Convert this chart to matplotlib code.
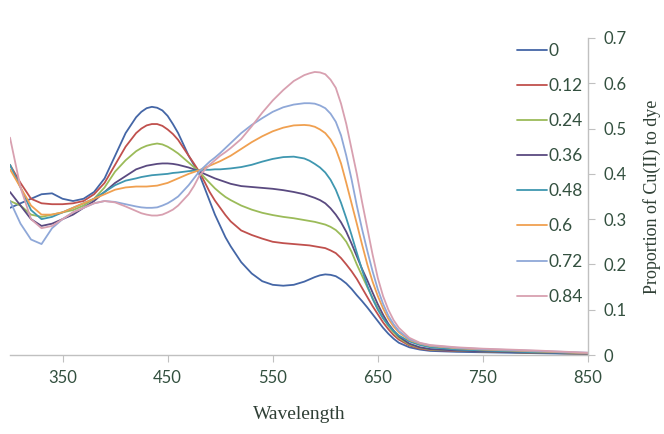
import matplotlib.pyplot as plt

# wavelengths (nm) (denser where the curves bend)
wavelength = [300, 310, 320, 330, 340, 350, 360, 370, 380, 390, 400, 410, 420,
              425, 430, 435, 440, 445, 450, 455, 460,
              470, 475, 480, 485, 490, 495, 500, 505, 510,
              520, 530, 540, 550, 560, 570, 580,
              585, 590, 595, 600, 605, 610, 615, 620, 625, 630, 635, 640, 645,
              650, 655, 660, 665, 670,
              680, 690, 700, 725, 750, 800, 850]

# absorbance for each Cu(II):dye proportion
abs_000 = [0.325, 0.335, 0.345, 0.355, 0.357, 0.345, 0.34, 0.345, 0.36, 0.39, 0.44, 0.49, 0.525,
           0.537, 0.545, 0.548, 0.546, 0.54, 0.528, 0.51, 0.49,
           0.44, 0.42, 0.40, 0.37, 0.34, 0.31, 0.285, 0.26, 0.24,
           0.205, 0.18, 0.163, 0.155, 0.153, 0.155, 0.162,
           0.167, 0.172, 0.176, 0.178, 0.177, 0.174, 0.167, 0.158, 0.146, 0.132, 0.119, 0.105, 0.09,
           0.075, 0.06, 0.047, 0.036, 0.027,
           0.017, 0.012, 0.009, 0.007, 0.006, 0.004, 0.002]
abs_012 = [0.42, 0.38, 0.345, 0.335, 0.333, 0.333, 0.335, 0.34, 0.355, 0.38, 0.42, 0.46, 0.49,
           0.50, 0.507, 0.51, 0.51, 0.506, 0.498, 0.488, 0.475,
           0.44, 0.423, 0.405, 0.383, 0.36, 0.341, 0.325, 0.309, 0.295,
           0.275, 0.265, 0.257, 0.25, 0.247, 0.245, 0.243,
           0.242, 0.24, 0.238, 0.236, 0.231, 0.225, 0.214, 0.2, 0.185, 0.168, 0.148, 0.128, 0.108,
           0.09, 0.072, 0.057, 0.044, 0.034,
           0.021, 0.014, 0.011, 0.009, 0.008, 0.005, 0.003]
abs_024 = [0.34, 0.33, 0.31, 0.305, 0.31, 0.315, 0.32, 0.33, 0.345, 0.37, 0.405, 0.43, 0.45,
           0.457, 0.462, 0.465, 0.467, 0.465, 0.46, 0.453, 0.445,
           0.425, 0.415, 0.405, 0.392, 0.38, 0.368, 0.358, 0.349, 0.342,
           0.33, 0.321, 0.314, 0.309, 0.305, 0.302, 0.298,
           0.296, 0.294, 0.291, 0.288, 0.283, 0.276, 0.265, 0.25, 0.228, 0.2, 0.175, 0.15, 0.126,
           0.103, 0.082, 0.064, 0.05, 0.038,
           0.023, 0.016, 0.012, 0.01, 0.008, 0.005, 0.003]
abs_036 = [0.36, 0.33, 0.3, 0.285, 0.29, 0.3, 0.31, 0.325, 0.34, 0.36, 0.38, 0.395, 0.41,
           0.414, 0.418, 0.42, 0.422, 0.423, 0.423, 0.422, 0.42,
           0.414, 0.41, 0.406, 0.40, 0.395, 0.39, 0.386, 0.382, 0.378,
           0.373, 0.371, 0.369, 0.367, 0.364, 0.36, 0.355,
           0.351, 0.347, 0.342, 0.335, 0.324, 0.31, 0.293, 0.272, 0.246, 0.218, 0.19, 0.165, 0.138,
           0.112, 0.089, 0.069, 0.054, 0.041,
           0.025, 0.017, 0.013, 0.01, 0.008, 0.005, 0.003]
abs_048 = [0.42, 0.37, 0.32, 0.3, 0.305, 0.315, 0.325, 0.335, 0.345, 0.36, 0.375, 0.385, 0.39,
           0.393, 0.395, 0.397, 0.398, 0.399, 0.40, 0.402, 0.403,
           0.406, 0.407, 0.408, 0.409, 0.409, 0.41, 0.41, 0.411, 0.412,
           0.415, 0.42, 0.427, 0.433, 0.437, 0.438, 0.434,
           0.429, 0.422, 0.414, 0.403, 0.387, 0.365, 0.336, 0.302, 0.265, 0.226, 0.188, 0.153, 0.124,
           0.1, 0.081, 0.066, 0.053, 0.043,
           0.03, 0.022, 0.017, 0.012, 0.01, 0.006, 0.004]
abs_060 = [0.41, 0.37, 0.33, 0.31, 0.31, 0.315, 0.325, 0.335, 0.345, 0.355, 0.365, 0.37, 0.372,
           0.372, 0.372, 0.373, 0.374, 0.377, 0.38, 0.385, 0.39,
           0.40, 0.404, 0.408, 0.413, 0.418, 0.423, 0.428, 0.434, 0.44,
           0.455, 0.47, 0.483, 0.494, 0.502, 0.507, 0.508,
           0.507, 0.504, 0.498, 0.49, 0.476, 0.455, 0.423, 0.38, 0.335, 0.29, 0.244, 0.2, 0.162,
           0.13, 0.103, 0.08, 0.063, 0.05,
           0.033, 0.025, 0.02, 0.015, 0.012, 0.008, 0.004]
abs_072 = [0.34, 0.29, 0.255, 0.245, 0.28, 0.3, 0.315, 0.325, 0.335, 0.34, 0.338, 0.333, 0.328,
           0.326, 0.325, 0.325, 0.326, 0.33, 0.335, 0.342, 0.35,
           0.375, 0.39, 0.405, 0.416, 0.427, 0.436, 0.446, 0.457, 0.468,
           0.49, 0.508, 0.523, 0.537, 0.547, 0.553, 0.556,
           0.556, 0.555, 0.551, 0.545, 0.533, 0.515, 0.485, 0.44, 0.388, 0.33, 0.278, 0.23, 0.185,
           0.145, 0.113, 0.087, 0.068, 0.053,
           0.035, 0.026, 0.021, 0.016, 0.013, 0.009, 0.005]
abs_084 = [0.48, 0.37, 0.3, 0.28, 0.285, 0.3, 0.315, 0.325, 0.335, 0.34, 0.337, 0.328, 0.318,
           0.313, 0.31, 0.308, 0.308, 0.31, 0.315, 0.321, 0.33,
           0.355, 0.373, 0.395, 0.408, 0.42, 0.43, 0.44, 0.448, 0.457,
           0.477, 0.505, 0.535, 0.562, 0.585, 0.605, 0.618,
           0.622, 0.625, 0.624, 0.62, 0.608, 0.59, 0.555, 0.51, 0.455, 0.4, 0.338, 0.28, 0.222,
           0.17, 0.13, 0.1, 0.077, 0.06,
           0.038, 0.027, 0.022, 0.017, 0.014, 0.01, 0.005]

labels = ["0", "0.12", "0.24", "0.36", "0.48", "0.6", "0.72", "0.84"]
series = [abs_000, abs_012, abs_024, abs_036, abs_048, abs_060, abs_072, abs_084]
colors = ["#4466a6", "#c0504d", "#9bbb59", "#5a4a80",
          "#3f97b0", "#f0a050", "#8fa8d8", "#d8a0b0"]

text_col = "#33503f"
axis_col = "#c0c0c0"

fig = plt.figure(figsize=(6.64, 4.34), dpi=100)
ax = fig.add_axes([10 / 664, 79 / 434, 578 / 664, 317 / 434])

for y, lab, c in zip(series, labels, colors):
    ax.plot(wavelength, y, color=c, lw=1.3, label=lab,
            solid_joinstyle="round", solid_capstyle="round")

ax.set_xlim(300, 850)
ax.set_ylim(0, 0.7)
ax.set_xticks([350, 450, 550, 650, 750, 850])
ax.set_yticks([0, 0.1, 0.2, 0.3, 0.4, 0.5, 0.6, 0.7])
ax.set_yticklabels(["0", "0.1", "0.2", "0.3", "0.4", "0.5", "0.6", "0.7"])

ax.yaxis.tick_right()
ax.yaxis.set_label_position("right")
for side in ["left", "top"]:
    ax.spines[side].set_visible(False)
for side in ["bottom", "right"]:
    ax.spines[side].set_color(axis_col)
    ax.spines[side].set_linewidth(1.0)

ax.tick_params(axis="both", direction="out", length=5, color=axis_col,
               labelsize=12, labelcolor=text_col, pad=6)
for t in ax.get_xticklabels() + ax.get_yticklabels():
    t.set_family("Lato")

ax.set_xlabel("Wavelength", family="Liberation Serif", fontsize=14,
              color="#2f3f35", labelpad=14)
ax.set_ylabel("Proportion of Cu(II) to dye", family="Liberation Serif",
              fontsize=13, color="#2f3f35", labelpad=12)

leg = ax.legend(loc="upper left", bbox_to_anchor=(517 / 664, 1 - 43 / 434),
                bbox_transform=fig.transFigure, frameon=False,
                prop={"family": "Lato", "size": 12.5}, handlelength=1.7,
                handletextpad=0.1, labelspacing=1.1, borderpad=0,
                borderaxespad=0)
for t in leg.get_texts():
    t.set_color(text_col)

fig.savefig("out.png", dpi=100)
